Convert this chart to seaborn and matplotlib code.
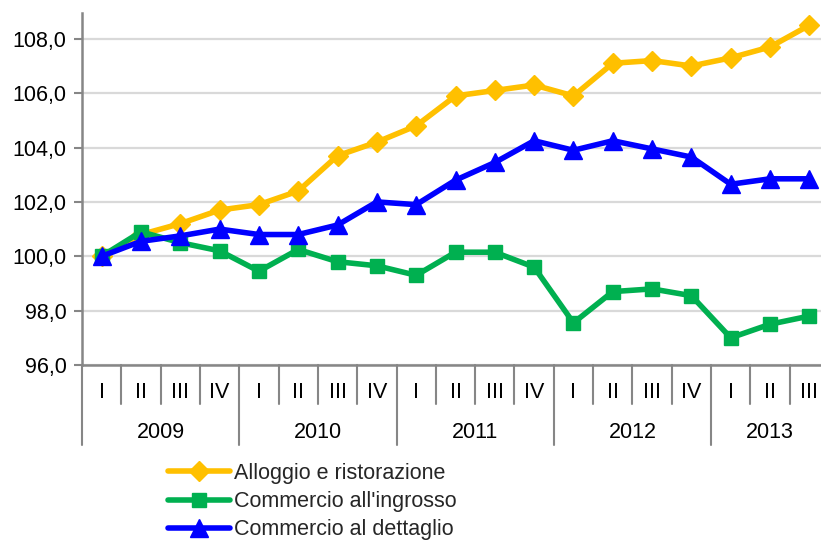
import pandas as pd
import seaborn as sns
import matplotlib.pyplot as plt

# --- data ---
years = ["2009", "2010", "2011", "2012", "2013"]
quarters_per_year = [4, 4, 4, 4, 3]
quarter_names = ["I", "II", "III", "IV"]

alloggio = [100.0, 100.8, 101.2, 101.7, 101.9, 102.4, 103.7, 104.2, 104.8, 105.9,
            106.1, 106.3, 105.9, 107.1, 107.2, 107.0, 107.3, 107.7, 108.5]
ingrosso = [100.0, 100.9, 100.5, 100.2, 99.45, 100.25, 99.8, 99.65, 99.3, 100.15,
            100.15, 99.6, 97.55, 98.7, 98.8, 98.55, 97.0, 97.5, 97.8]
dettaglio = [100.0, 100.55, 100.75, 101.0, 100.8, 100.8, 101.15, 102.0, 101.9, 102.8,
             103.45, 104.25, 103.9, 104.25, 103.95, 103.65, 102.65, 102.85, 102.85]

series_names = ["Alloggio e ristorazione", "Commercio all'ingrosso", "Commercio al dettaglio"]
series_values = [alloggio, ingrosso, dettaglio]
y_ticks = [96, 98, 100, 102, 104, 106, 108]

# --- styling ---
colors = ["#FFC000", "#00B050", "#0000FF"]
markers = ["D", "s", "^"]
marker_sizes = [10, 10.5, 13.5]
GRAY = "#868686"
FS = 15.5

sns.set_theme(style="white")
plt.rcParams["font.family"] = ["Liberation Sans", "DejaVu Sans"]

# quarter labels and positions
q_labels = []
for n in quarters_per_year:
    q_labels += quarter_names[:n]
x = list(range(len(q_labels)))

frames = []
for name, vals in zip(series_names, series_values):
    frames.append(pd.DataFrame({"x": x, "value": vals, "serie": name}))
df = pd.concat(frames, ignore_index=True)

fig = plt.figure(figsize=(8.21, 5.41), dpi=100)
ax = fig.add_axes([82 / 821, 1 - 365 / 541, (829 - 82) / 821, (365 - 13) / 541])

for name, col, mk, ms in zip(series_names, colors, markers, marker_sizes):
    sns.lineplot(data=df[df["serie"] == name], x="x", y="value", ax=ax,
                 color=col, marker=mk, markersize=ms, markeredgecolor=col,
                 markeredgewidth=1, linewidth=4, label=name)

ax.set_xlim(-0.5, len(x) - 0.5)
ax.set_ylim(96, 108.95)
ax.set_yticks(y_ticks)
ax.set_yticklabels([f"{v:.1f}".replace(".", ",") for v in y_ticks], fontsize=FS)
ax.set_xticks([])
ax.set_xlabel("")
ax.set_ylabel("")
ax.yaxis.grid(True, color="#D9D9D9", linewidth=1.6)
ax.set_axisbelow(True)
ax.tick_params(axis="y", which="major", direction="out", length=6, width=1.5,
               color=GRAY, left=True, pad=5, labelcolor="black")

for side in ["top", "right"]:
    ax.spines[side].set_visible(False)
for side in ["left", "bottom"]:
    ax.spines[side].set_color(GRAY)
    ax.spines[side].set_linewidth(1.8)

# category axis: quarters and years below
trans = ax.get_xaxis_transform()
q_bottom = -(404 - 365) / 352
y_bottom = -(445 - 365) / 352
year_starts = [0]
for n in quarters_per_year:
    year_starts.append(year_starts[-1] + n)

for b in range(len(x) + 1):
    low = y_bottom if b in year_starts else q_bottom
    ax.plot([b - 0.5, b - 0.5], [0, low], transform=trans, clip_on=False,
            color=GRAY, linewidth=1.5)

for i, lab in enumerate(q_labels):
    ax.text(i, -(392 - 365) / 352, lab, transform=trans, ha="center", va="center",
            fontsize=FS, color="black")

for yr, start, n in zip(years, year_starts, quarters_per_year):
    ax.text(start + (n - 1) / 2, -(432 - 365) / 352, yr, transform=trans,
            ha="center", va="center", fontsize=FS, color="black")

handles, labels = ax.get_legend_handles_labels()
ax.get_legend().remove()
fig.legend(handles, labels, loc="upper left", bbox_to_anchor=(168 / 821, 1 - 463 / 541),
           frameon=False, fontsize=FS, handlelength=2.9, handletextpad=0.15,
           labelspacing=0.33, borderpad=0, borderaxespad=0)

fig.savefig("out.png", dpi=100)
